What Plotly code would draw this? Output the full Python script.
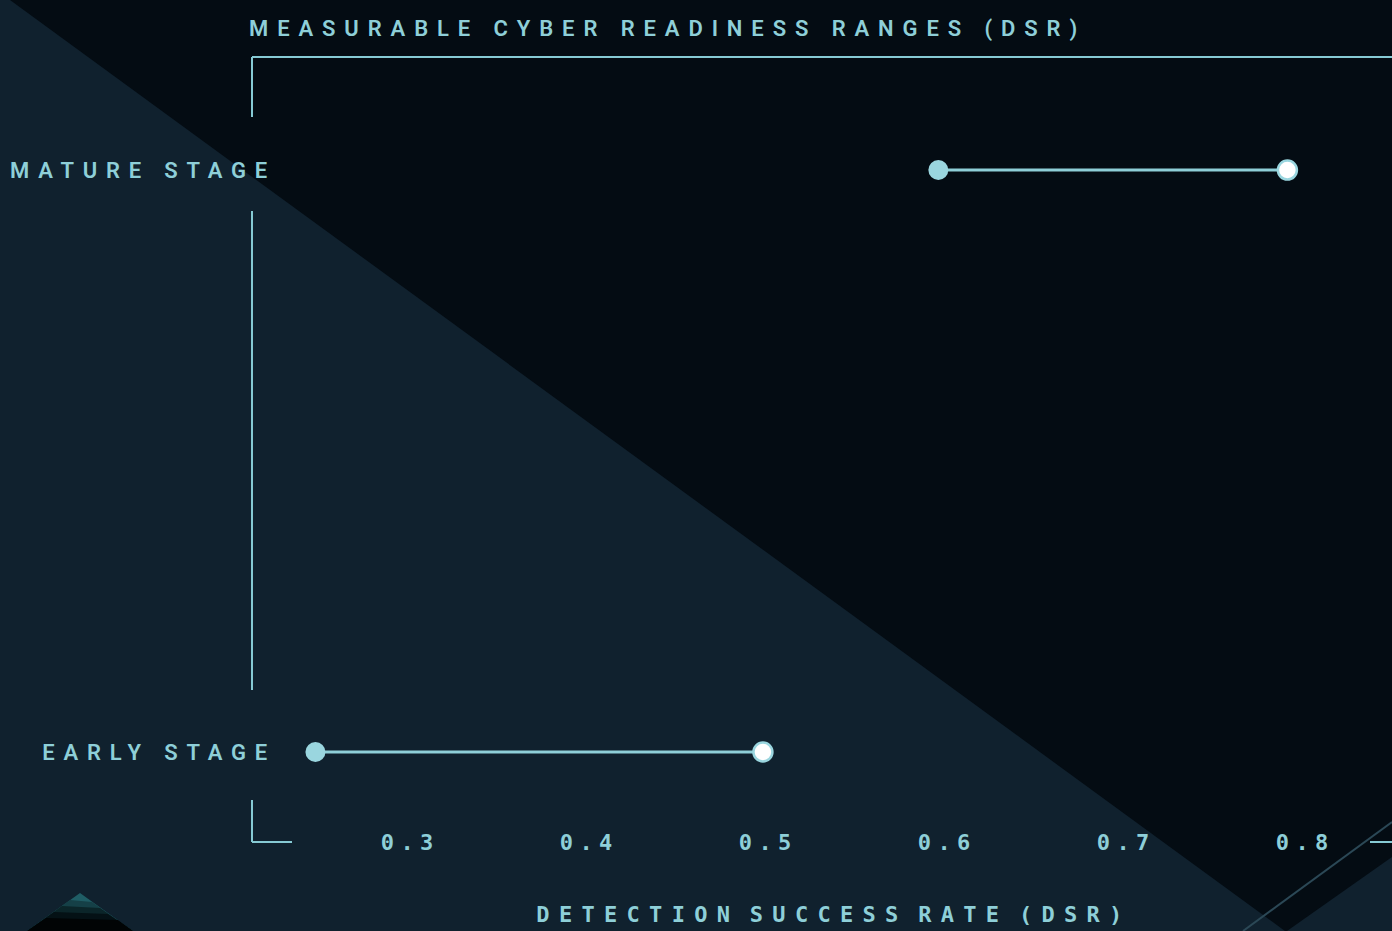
import plotly.graph_objects as go

# ---- data ----
stages = ["EARLY STAGE", "MATURE STAGE"]
dsr_low = [0.247, 0.595]
dsr_high = [0.497, 0.79]
tick_vals = [0.3, 0.4, 0.5, 0.6, 0.7, 0.8]
tick_text = ["0.3", "0.4", "0.5", "0.6", "0.7", "0.8"]

title_text = "MEASURABLE CYBER READINESS RANGES (DSR)"
x_title = "DETECTION SUCCESS RATE (DSR)"

# ---- style ----
W, H = 1392, 931
ML, MR, MT, MB = 276, 0, 57, 89
PW, PH = W - ML - MR, H - MT - MB
BG_DARK = "#040c13"
BG_LIGHT = "#10212e"
CYAN = "#8ecfd8"
LINE = "#86cad4"
DOT = "#9ad6df"
SANS = "Roboto, 'Open Sans', sans-serif"
MONO = "'DejaVu Sans Mono', 'Liberation Mono', monospace"


def px(xp):
    return (xp - ML) / PW


def py(yp):
    return (MT + PH - yp) / PH


def path(points):
    return "M " + " L ".join(f"{px(a):.5f},{py(b):.5f}" for a, b in points) + " Z"


fig = go.Figure()

# connecting lines
for s, lo, hi in zip(stages, dsr_low, dsr_high):
    fig.add_trace(go.Scatter(x=[lo, hi], y=[s, s], mode="lines",
                             line=dict(color=CYAN, width=3),
                             showlegend=False, hoverinfo="skip"))

fig.add_trace(go.Scatter(x=dsr_low, y=stages, mode="markers",
                         marker=dict(size=20, color=DOT, line=dict(width=0)),
                         showlegend=False, name="Low"))
fig.add_trace(go.Scatter(x=dsr_high, y=stages, mode="markers",
                         marker=dict(size=19, color="#ffffff", line=dict(width=2.5, color=DOT)),
                         showlegend=False, name="High"))

shapes = []
# background split
shapes.append(dict(type="path", xref="paper", yref="paper", layer="below",
                   path=path([(0, 0), (10, 0), (1285, 931), (0, 931)]),
                   fillcolor=BG_LIGHT, line=dict(width=0)))
shapes.append(dict(type="path", xref="paper", yref="paper", layer="below",
                   path=path([(1287, 931), (1392, 857), (1392, 931)]),
                   fillcolor=BG_LIGHT, line=dict(width=0)))
shapes.append(dict(type="line", xref="paper", yref="paper", layer="below",
                   x0=px(1243), y0=py(931), x1=px(1392), y1=py(822),
                   line=dict(color="#2b4856", width=2)))
# bottom-left pyramid (layered for a gradient look)
shapes.append(dict(type="path", xref="paper", yref="paper", layer="below",
                   path=path([(80, 893), (27, 931), (133, 931)]),
                   fillcolor="#1f5d65", line=dict(width=0)))
shapes.append(dict(type="path", xref="paper", yref="paper", layer="below",
                   path=path([(70, 900), (92, 902), (133, 931), (27, 931)]),
                   fillcolor="#154047", line=dict(width=0)))
shapes.append(dict(type="path", xref="paper", yref="paper", layer="below",
                   path=path([(62, 906), (100, 908), (133, 931), (27, 931)]),
                   fillcolor="#0b2529", line=dict(width=0)))
shapes.append(dict(type="path", xref="paper", yref="paper", layer="below",
                   path=path([(54, 912), (108, 914), (133, 931), (27, 931)]),
                   fillcolor="#041115", line=dict(width=0)))
shapes.append(dict(type="path", xref="paper", yref="paper", layer="below",
                   path=path([(46, 918), (118, 920), (133, 931), (27, 931)]),
                   fillcolor="#010405", line=dict(width=0)))

# broken frame lines
segs = [
    ((252, 57), (1392, 57)),
    ((252, 57), (252, 117)),
    ((252, 211), (252, 690)),
    ((252, 800), (252, 842)),
    ((252, 842), (292, 842)),
    ((1370, 842), (1392, 842)),
]
for (a, b), (c, d) in segs:
    shapes.append(dict(type="line", xref="paper", yref="paper",
                       x0=px(a), y0=py(b), x1=px(c), y1=py(d),
                       line=dict(color=LINE, width=2)))

x_left = 0.5 - (768.3 - ML) / 1790
x_right = 0.5 + (W - MR - 768.3) / 1790
y_lo, y_hi = -0.15464, 1.19421

fig.update_layout(
    width=W, height=H,
    margin=dict(l=ML, r=MR, t=MT, b=MB, pad=0),
    paper_bgcolor=BG_DARK,
    plot_bgcolor="rgba(0,0,0,0)",
    shapes=shapes,
    hovermode=False,
    title=dict(text=title_text, xref="container", yref="container",
               x=249 / W, xanchor="left", y=1 - 28 / H, yanchor="middle",
               font=dict(family=SANS, size=22, color=CYAN, weight=600)),
    xaxis=dict(range=[x_left, x_right], tickvals=tick_vals, ticktext=tick_text,
               showgrid=False, zeroline=False, showline=False, ticks="",
               tickfont=dict(family=MONO, size=22, color=CYAN, weight=700),
               ticklabelstandoff=-15,
               title=dict(text=x_title, standoff=52,
                          font=dict(family=MONO, size=22, color=CYAN, weight=700))),
    yaxis=dict(type="category", categoryorder="array", categoryarray=stages,
               range=[y_lo, y_hi], showgrid=False, zeroline=False, showline=False,
               ticks="", tickfont=dict(family=SANS, size=22, color=CYAN, weight=600),
               ticklabelstandoff=-1),
)

css = ("var s=document.createElement('style');"
       "s.textContent='html, body {margin:0; padding:0; background:#040c13;}"
       " .gtitle {letter-spacing:8.9px;} .ytick text {letter-spacing:0.4em;}"
       " .xtick text {letter-spacing:6.4px;}"
       " .xtitle {letter-spacing:9.3px; word-spacing:-12px;}';"
       "document.head.appendChild(s);")

fig.write_html("out.html", config={"displayModeBar": False}, post_script=css)
